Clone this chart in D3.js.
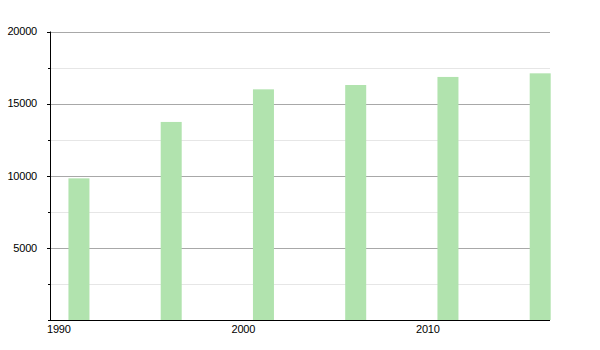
<!DOCTYPE html>
<html>
<head>
<meta charset="utf-8">
<script src="https://d3js.org/d3.v7.min.js"></script>
<style>
  body { margin: 0; background: #fff; }
  text { font-family: "Liberation Sans", Arial, sans-serif; font-size: 11px; fill: #000; }
</style>
</head>
<body>
<div id="canvas"></div>
<script>
// chart data
const years = [1991, 1996, 2001, 2006, 2011, 2016];
const population = [9820, 13730, 15990, 16290, 16850, 17100];
const yearTicks = [1990, 2000, 2010];
const majorTicks = [5000, 10000, 15000, 20000];
const minorTicks = [2500, 7500, 12500, 17500];

const width = 600, height = 350;
const margin = {top: 31.5, right: 50, bottom: 30, left: 50};

const svg = d3.select("#canvas")
  .append("svg")
  .attr("width", width)
  .attr("height", height);

const x = d3.scaleLinear()
  .domain([1990, 2017.1])
  .range([margin.left, width - margin.right]);

const y = d3.scaleLinear()
  .domain([0, 20000])
  .range([height - margin.bottom, margin.top]);

const barWidth = 21;

// minor grid lines
svg.append("g")
  .selectAll("line")
  .data(minorTicks)
  .join("line")
  .attr("x1", margin.left)
  .attr("x2", width - margin.right)
  .attr("y1", d => Math.round(y(d)) + 0.5)
  .attr("y2", d => Math.round(y(d)) + 0.5)
  .attr("stroke", "#e6e6e6")
  .attr("stroke-width", 1);

// major grid lines
svg.append("g")
  .selectAll("line")
  .data(majorTicks)
  .join("line")
  .attr("x1", margin.left)
  .attr("x2", width - margin.right)
  .attr("y1", d => Math.round(y(d)) + 0.5)
  .attr("y2", d => Math.round(y(d)) + 0.5)
  .attr("stroke", "#a8a8a8")
  .attr("stroke-width", 1);

// bars
svg.append("g")
  .selectAll("rect")
  .data(years)
  .join("rect")
  .attr("x", d => x(d))
  .attr("y", (d, i) => y(population[i]))
  .attr("width", barWidth)
  .attr("height", (d, i) => y(0) - y(population[i]))
  .attr("fill", "#b1e3ae");

// y axis
const yAxis = svg.append("g")
  .attr("transform", "translate(" + margin.left + ",0)");

yAxis.append("line")
  .attr("x1", 0.5).attr("x2", 0.5)
  .attr("y1", y(20000)).attr("y2", y(0))
  .attr("stroke", "#000");

yAxis.selectAll(".minor")
  .data(minorTicks)
  .join("line")
  .attr("class", "minor")
  .attr("x1", -2).attr("x2", 0)
  .attr("y1", d => Math.round(y(d)) + 0.5)
  .attr("y2", d => Math.round(y(d)) + 0.5)
  .attr("stroke", "#000");

yAxis.selectAll(".major")
  .data(majorTicks)
  .join("line")
  .attr("class", "major")
  .attr("x1", -3).attr("x2", 0)
  .attr("y1", d => Math.round(y(d)) + 0.5)
  .attr("y2", d => Math.round(y(d)) + 0.5)
  .attr("stroke", "#000");

yAxis.selectAll("text")
  .data(majorTicks)
  .join("text")
  .attr("x", -13)
  .attr("y", d => y(d))
  .attr("dy", "0.35em")
  .attr("text-anchor", "end")
  .attr("letter-spacing", "-0.2")
  .text(d => d);

// x axis
const xAxis = svg.append("g");

xAxis.append("line")
  .attr("x1", margin.left - 2)
  .attr("x2", width - margin.right)
  .attr("y1", Math.round(y(0)) + 0.5)
  .attr("y2", Math.round(y(0)) + 0.5)
  .attr("stroke", "#000")
  .attr("stroke-width", 1.2);

xAxis.selectAll("text")
  .data(yearTicks)
  .join("text")
  .attr("x", d => x(d) - 3)
  .attr("y", y(0) + 13)
  .attr("text-anchor", "start")
  .attr("letter-spacing", "-0.2")
  .text(d => d);
</script>
</body>
</html>
